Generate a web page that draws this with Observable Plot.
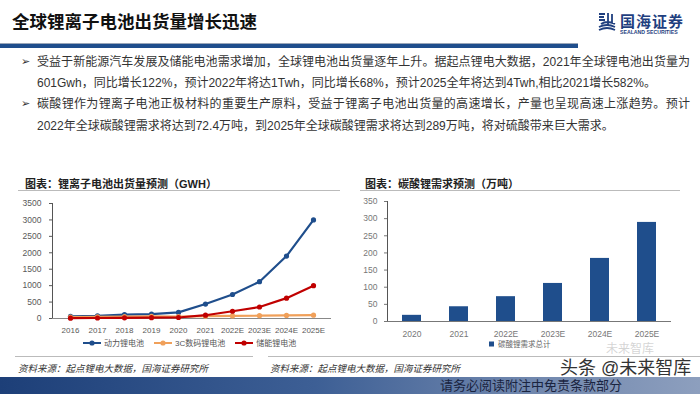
<!DOCTYPE html>
<html><head><meta charset="utf-8">
<script src="https://cdn.jsdelivr.net/npm/d3@7"></script>
<script src="https://cdn.jsdelivr.net/npm/@observablehq/plot@0.6"></script>
<style>
body{margin:0;width:700px;height:394px;overflow:hidden;background:#fff;position:relative;font-family:"Liberation Sans","Noto Sans CJK SC",sans-serif;}
.abs{position:absolute;white-space:nowrap;}
.bl{position:absolute;left:37px;width:653px;font-size:12px;color:#333;line-height:14px;white-space:nowrap;}
.just{text-align:justify;text-align-last:justify;}
.ct{font-size:11px;font-weight:bold;color:#222;}
.src{font-size:9.5px;font-style:italic;color:#333;}
.leg{font-size:8px;color:#555;display:flex;align-items:center;}
</style></head>
<body>
<script>
// ---- data ----
const years = ["2016","2017","2018","2019","2020","2021","2022E","2023E","2024E","2025E"];
const powerBattery = [65, 80, 115, 135, 185, 440, 730, 1120, 1900, 3000];
const consumer3C   = [45, 50, 58, 62, 55, 70, 78, 85, 95, 100];
const storageBattery = [10, 15, 20, 25, 30, 100, 220, 350, 620, 1000];
const seriesNames = ["动力锂电池", "3C数码锂电池", "储能锂电池"];
const seriesColors = ["#1F4E8C", "#F0A05A", "#C00000"];
const leftTicks = [0, 500, 1000, 1500, 2000, 2500, 3000, 3500];

const lcYears = ["2020","2021","2022E","2023E","2024E","2025E"];
const lcDemand = [18, 43, 72.4, 111, 184, 289];
const lcName = "碳酸锂需求总计";
const rightTicks = [0, 50, 100, 150, 200, 250, 300, 350];
</script>

<!-- header -->
<div class="abs" style="left:12px;top:8px;font-size:17.5px;font-weight:bold;color:#111;">全球锂离子电池出货量增长迅速</div>
<div class="abs" style="left:0;top:43px;width:578px;height:4px;background:#1F4E8C;border-top:1px solid #9aa6b8;"></div>
<svg class="abs" style="left:598px;top:12px" width="18" height="21" viewBox="0 0 18 21">
  <path d="M1 2h6M1 5h5M1 8h6M10 1v12M14 2v10M3 12q6 -4 14 0M1 15q8 -4 16 0M1 18q8 -4 16 0" stroke="#1F3F7F" stroke-width="1.8" fill="none"/>
</svg>
<div class="abs" style="left:620px;top:10px;font-size:15px;font-weight:bold;color:#1F3F7F;letter-spacing:1px;">国海证券</div>
<div class="abs" style="left:620px;top:29px;font-size:5.2px;font-weight:bold;color:#1F3F7F;">SEALAND SECURITIES</div>

<!-- bullets -->
<div class="abs" style="left:21px;top:55px;font-size:11px;color:#333;">➢</div>
<div class="bl just" style="top:55px;">受益于新能源汽车发展及储能电池需求增加，全球锂电池出货量逐年上升。据起点锂电大数据，2021年全球锂电池出货量为</div>
<div class="bl" style="top:76px;">601Gwh，同比增长122%，预计2022年将达1Twh，同比增长68%，预计2025全年将达到4Twh,相比2021增长582%。</div>
<div class="abs" style="left:21px;top:97px;font-size:11px;color:#333;">➢</div>
<div class="bl just" style="top:97px;">碳酸锂作为锂离子电池正极材料的重要生产原料，受益于锂离子电池出货量的高速增长，产量也呈现高速上涨趋势。预计</div>
<div class="bl" style="top:119px;">2022年全球碳酸锂需求将达到72.4万吨，到2025年全球碳酸锂需求将达到289万吨，将对硫酸带来巨大需求。</div>

<!-- chart titles -->
<div class="abs ct" style="left:25px;top:175px;">图表：锂离子电池出货量预测（GWH）</div>
<div class="abs" style="left:18px;top:190px;width:322px;height:1px;background:#bbb;"></div>
<div class="abs ct" style="left:365px;top:175px;">图表：碳酸锂需求预测（万吨）</div>
<div class="abs" style="left:360px;top:190px;width:320px;height:1px;background:#bbb;"></div>

<div id="left" class="abs" style="left:0;top:195px;"></div>
<div id="right" class="abs" style="left:350px;top:195px;"></div>

<div id="legL" class="abs leg" style="left:83px;top:337px;"></div>
<div id="legR" class="abs leg" style="left:489px;top:338px;font-size:7.5px;color:#666;"></div>

<div class="abs" style="left:15px;top:356px;width:238px;height:1px;background:#bbb;"></div>
<div class="abs" style="left:268px;top:356px;width:432px;height:1px;background:#bbb;"></div>
<div class="abs src" style="left:18px;top:361px;">资料来源：起点锂电大数据，国海证券研究所</div>
<div class="abs src" style="left:270px;top:361px;">资料来源：起点锂电大数据，国海证券研究所</div>

<!-- footer band -->
<div class="abs" style="left:0;top:377px;width:700px;height:17px;background:linear-gradient(90deg,#1d3f78 0%,#3d5f95 45%,#6f86ad 75%,#8d9fbe 100%);"></div>
<div class="abs" style="left:440px;top:378px;font-size:13px;line-height:15px;color:#1a2440;">请务必阅读附注中免责条款部分</div>
<div class="abs" style="left:606px;top:343px;font-size:12px;line-height:13px;color:rgba(170,170,170,0.5);">未来智库</div>
<div class="abs" style="left:560px;top:358px;font-size:18px;line-height:20px;color:#333;text-shadow:0 0 2px #fff,0 0 2px #fff;">头条 @未来智库</div>

<script>
const font = '"Liberation Sans","Noto Sans CJK SC",sans-serif';
const rows = [];
years.forEach((y, i) => {
  rows.push({year: y, value: powerBattery[i], s: seriesNames[0]});
  rows.push({year: y, value: consumer3C[i], s: seriesNames[1]});
  rows.push({year: y, value: storageBattery[i], s: seriesNames[2]});
});
const plain = d => String(d);
const left = Plot.plot({
  width: 340, height: 150,
  marginTop: 8, marginBottom: 27, marginLeft: 52, marginRight: 9,
  style: {fontFamily: font, fontSize: "8.5px", color: "#595959", background: "transparent"},
  x: {type: "point", domain: years, padding: 0.5, label: null},
  y: {domain: [0, 3500], label: null},
  color: {domain: seriesNames, range: seriesColors},
  marks: [
    Plot.axisY({ticks: leftTicks, tickFormat: plain, tickSize: 3, tickPadding: 8, label: null, fontSize: 8.5}),
    Plot.axisX({tickSize: 0, tickPadding: 9, label: null, fontSize: 8}),
    Plot.frame({anchor: "left", stroke: "#555"}),
    Plot.ruleY([0], {stroke: "#888"}),
    Plot.line(rows, {x: "year", y: "value", z: "s", stroke: "s", strokeWidth: 2.2}),
    Plot.dot(rows, {x: "year", y: "value", fill: "s", r: 2.6, stroke: "none"})
  ]
});
document.getElementById("left").appendChild(left);

const bars = lcYears.map((y, i) => ({year: y, value: lcDemand[i]}));
const right = Plot.plot({
  width: 340, height: 150,
  marginTop: 6, marginBottom: 24, marginLeft: 37, marginRight: 19,
  style: {fontFamily: font, fontSize: "8.5px", color: "#777", background: "transparent"},
  x: {type: "band", domain: lcYears, paddingInner: 0.6, paddingOuter: 0.3, label: null},
  y: {domain: [0, 350], label: null},
  marks: [
    Plot.barY(bars, {x: "year", y: "value", fill: "#1F4E8C"}),
    Plot.axisY({ticks: rightTicks, tickFormat: plain, tickSize: 3, tickPadding: 7, label: null, fontSize: 8.5}),
    Plot.axisX({tickSize: 0, tickPadding: 9, label: null, fontSize: 8.5}),
    Plot.frame({anchor: "left", stroke: "#555"}),
    Plot.ruleY([0], {stroke: "#777"})
  ]
});
document.getElementById("right").appendChild(right);

// legends
const legL = document.getElementById("legL");
seriesNames.forEach((n, i) => {
  const item = document.createElement("span");
  item.style.cssText = "display:inline-flex;align-items:center;margin-right:10px;";
  item.innerHTML = `<svg width="18" height="8"><line x1="0" y1="4" x2="18" y2="4" stroke="${seriesColors[i]}" stroke-width="2"/><circle cx="9" cy="4" r="2.6" fill="${seriesColors[i]}"/></svg><span style="margin-left:3px">${n}</span>`;
  legL.appendChild(item);
});
document.getElementById("legR").innerHTML = `<svg width="6" height="6"><rect width="5" height="5" y="0.5" fill="#1F4E8C"/></svg><span style="margin-left:3px">${lcName}</span>`;
</script>
</body></html>
